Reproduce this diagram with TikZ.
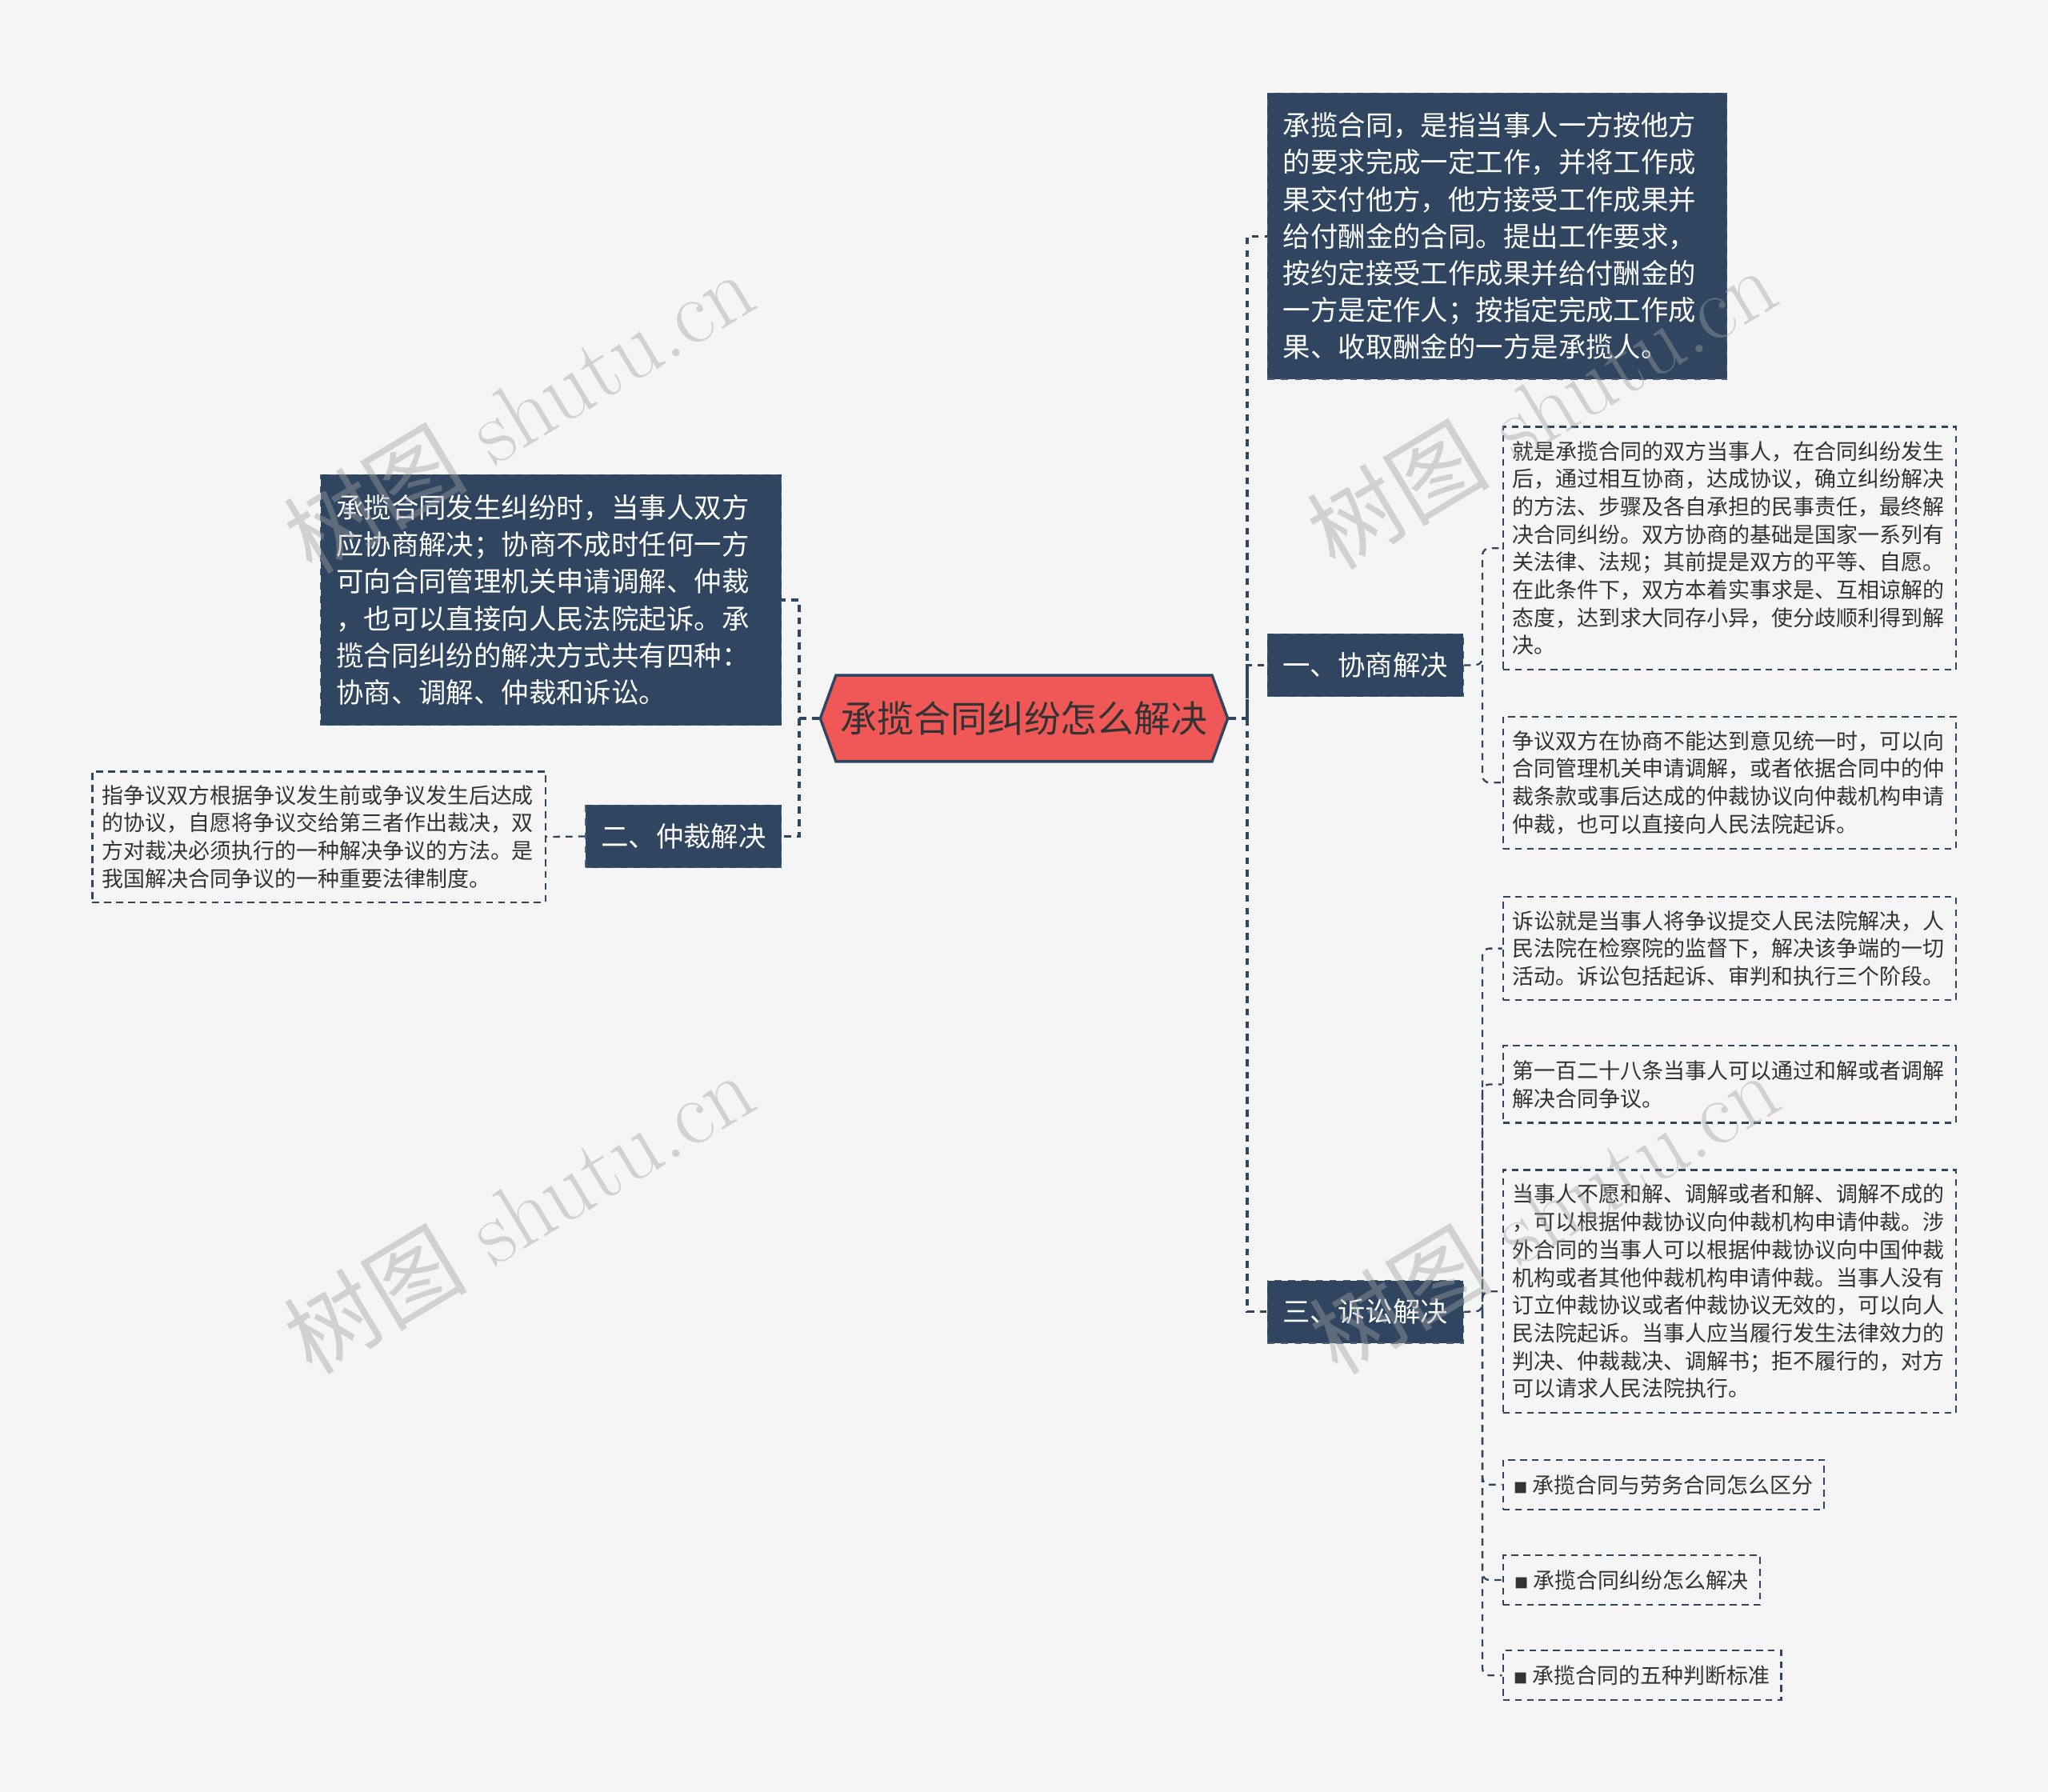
\documentclass[tikz,border=0pt]{standalone}
\usepackage{fontspec}
\newfontfamily\cjk{Noto Sans CJK SC}
\usetikzlibrary{shapes.symbols}
\definecolor{navy}{HTML}{2F4560}
\definecolor{bgc}{HTML}{F5F5F5}
\definecolor{titlered}{HTML}{F05757}
\definecolor{inktext}{HTML}{333333}
\definecolor{markgray}{HTML}{A0A0A0}
\tikzset{
  darkbox/.style={anchor=north west, fill=navy, draw=navy!85!white, dashed, text=white,
    align=left, inner xsep=0.24cm, inner ysep=0pt, font=\cjk\fontsize{12}{16.1}\selectfont},
  branchbox/.style={anchor=north west, fill=navy, draw=navy!85!white, dashed, text=white,
    minimum width=3cm, minimum height=0.96cm, inner sep=0pt, font=\cjk\fontsize{12}{14}\selectfont},
  notebox/.style={anchor=north west, draw=navy, line width=0.8pt, dash pattern=on 3pt off 2.2pt,
    text=inktext, align=left, inner xsep=0.15cm, inner ysep=0pt, text width=6.64cm,
    font=\cjk\fontsize{9.4}{12.1}\selectfont},
  linkbox/.style={notebox, text width={}, minimum height=0.76cm},
  hexa/.style={signal, signal to=west and east, signal pointer angle=140, fill=titlered,
    draw=navy, line width=1.2pt, minimum width=6.24cm, minimum height=1.32cm, inner sep=0pt,
    text=inktext, font=\cjk\fontsize{16}{18}\selectfont},
  trunk/.style={draw=navy, line width=1.2pt, dash pattern=on 3pt off 2.5pt},
  twig/.style={draw=navy, line width=0.8pt, dash pattern=on 3pt off 2.5pt, rounded corners=3pt},
  wmark/.style={text=markgray, opacity=0.42, rotate=31, font=\fontsize{40}{40}\selectfont}
}
\newcommand{\sqmark}{{\fontsize{6}{6}\selectfont ■}\ }
\begin{document}
\begin{tikzpicture}[x=0.02cm, y=-0.02cm]
  % background
  \fill[bgc] (0,0) rectangle (1568,1372);
  \useasboundingbox (0,0) rectangle (1568,1372);

  % Drawing centre node
  \node[hexa] (root) at (784,550) {承揽合同纠纷怎么解决};

  % Drawing right side
  \node[darkbox, text width=6.56cm, minimum height=4.38cm] (def) at (970,71)
    {承揽合同，是指当事人一方按他方\\的要求完成一定工作，并将工作成\\果交付他方，他方接受工作成果并\\给付酬金的合同。提出工作要求，\\按约定接受工作成果并给付酬金的\\一方是定作人；按指定完成工作成\\果、收取酬金的一方是承揽人。};
  \node[branchbox] (talk) at (970,485) {一、协商解决};
  \node[branchbox] (court) at (970,980) {三、诉讼解决};

  \node[notebox, minimum height=3.72cm] (talkA) at (1150,326)
    {就是承揽合同的双方当事人，在合同纠纷发生\\后，通过相互协商，达成协议，确立纠纷解决\\的方法、步骤及各自承担的民事责任，最终解\\决合同纠纷。双方协商的基础是国家一系列有\\关法律、法规；其前提是双方的平等、自愿。\\在此条件下，双方本着实事求是、互相谅解的\\态度，达到求大同存小异，使分歧顺利得到解\\决。};
  \node[notebox, minimum height=2.02cm] (talkB) at (1150,548)
    {争议双方在协商不能达到意见统一时，可以向\\合同管理机关申请调解，或者依据合同中的仲\\裁条款或事后达成的仲裁协议向仲裁机构申请\\仲裁，也可以直接向人民法院起诉。};

  \node[notebox, minimum height=1.58cm] (courtA) at (1150,686)
    {诉讼就是当事人将争议提交人民法院解决，人\\民法院在检察院的监督下，解决该争端的一切\\活动。诉讼包括起诉、审判和执行三个阶段。};
  \node[notebox, minimum height=1.18cm] (courtB) at (1150,800)
    {第一百二十八条当事人可以通过和解或者调解\\解决合同争议。};
  \node[notebox, minimum height=3.72cm] (courtC) at (1150,895)
    {当事人不愿和解、调解或者和解、调解不成的\\，可以根据仲裁协议向仲裁机构申请仲裁。涉\\外合同的当事人可以根据仲裁协议向中国仲裁\\机构或者其他仲裁机构申请仲裁。当事人没有\\订立仲裁协议或者仲裁协议无效的，可以向人\\民法院起诉。当事人应当履行发生法律效力的\\判决、仲裁裁决、调解书；拒不履行的，对方\\可以请求人民法院执行。};
  \node[linkbox, minimum width=4.92cm] (linkA) at (1150,1117) {\sqmark 承揽合同与劳务合同怎么区分};
  \node[linkbox, minimum width=3.94cm] (linkB) at (1150,1190) {\sqmark 承揽合同纠纷怎么解决};
  \node[linkbox, minimum width=4.26cm] (linkC) at (1150,1263) {\sqmark 承揽合同的五种判断标准};

  % Drawing left side
  \node[darkbox, text width=6.58cm, minimum height=3.84cm] (intro) at (245,363)
    {承揽合同发生纠纷时，当事人双方\\应协商解决；协商不成时任何一方\\可向合同管理机关申请调解、仲裁\\，也可以直接向人民法院起诉。承\\揽合同纠纷的解决方式共有四种：\\协商、调解、仲裁和诉讼。};
  \node[branchbox] (arbit) at (448,616) {二、仲裁解决};
  \node[notebox, minimum height=2cm] (arbitA) at (70,590)
    {指争议双方根据争议发生前或争议发生后达成\\的协议，自愿将争议交给第三者作出裁决，双\\方对裁决必须执行的一种解决争议的方法。是\\我国解决合同争议的一种重要法律制度。};

  % Drawing connectors
  \coordinate (rjoint) at (955,550);
  \coordinate (ljoint) at (612,550);
  \coordinate (talkjoint) at (1135,509);
  \coordinate (courtjoint) at (1135,1004);
  \draw[trunk] (root.east) -- (rjoint) |- (def.west);
  \draw[trunk] (rjoint) |- (talk.west);
  \draw[trunk] (rjoint) |- (court.west);
  \draw[trunk] (root.west) -- (ljoint) |- (intro.east);
  \draw[trunk] (ljoint) |- (arbit.east);
  \draw[twig] (arbit.west) -- (arbitA.east);
  \draw[twig] (talk.east) -- (talkjoint) |- (talkA.west);
  \draw[twig] (talkjoint) |- (talkB.west);
  \draw[twig] (court.east) -- (courtjoint) |- (courtA.west);
  \draw[twig] (courtjoint) |- (courtB.west);
  \draw[twig] (courtjoint) |- (courtC.west);
  \draw[twig] (courtjoint) |- (linkA.west);
  \draw[twig] (courtjoint) |- (linkB.west);
  \draw[twig] (courtjoint) |- (linkC.west);

  % Marking watermarks
  \node[wmark] (wm1) at (397,315) {{\cjk 树图} shutu.cn};
  \node[wmark] (wm2) at (397,928) {{\cjk 树图} shutu.cn};
  \node[wmark] (wm3) at (1180,312) {{\cjk 树图} shutu.cn};
  \node[wmark] (wm4) at (1182,928) {{\cjk 树图} shutu.cn};
\end{tikzpicture}
\end{document}
